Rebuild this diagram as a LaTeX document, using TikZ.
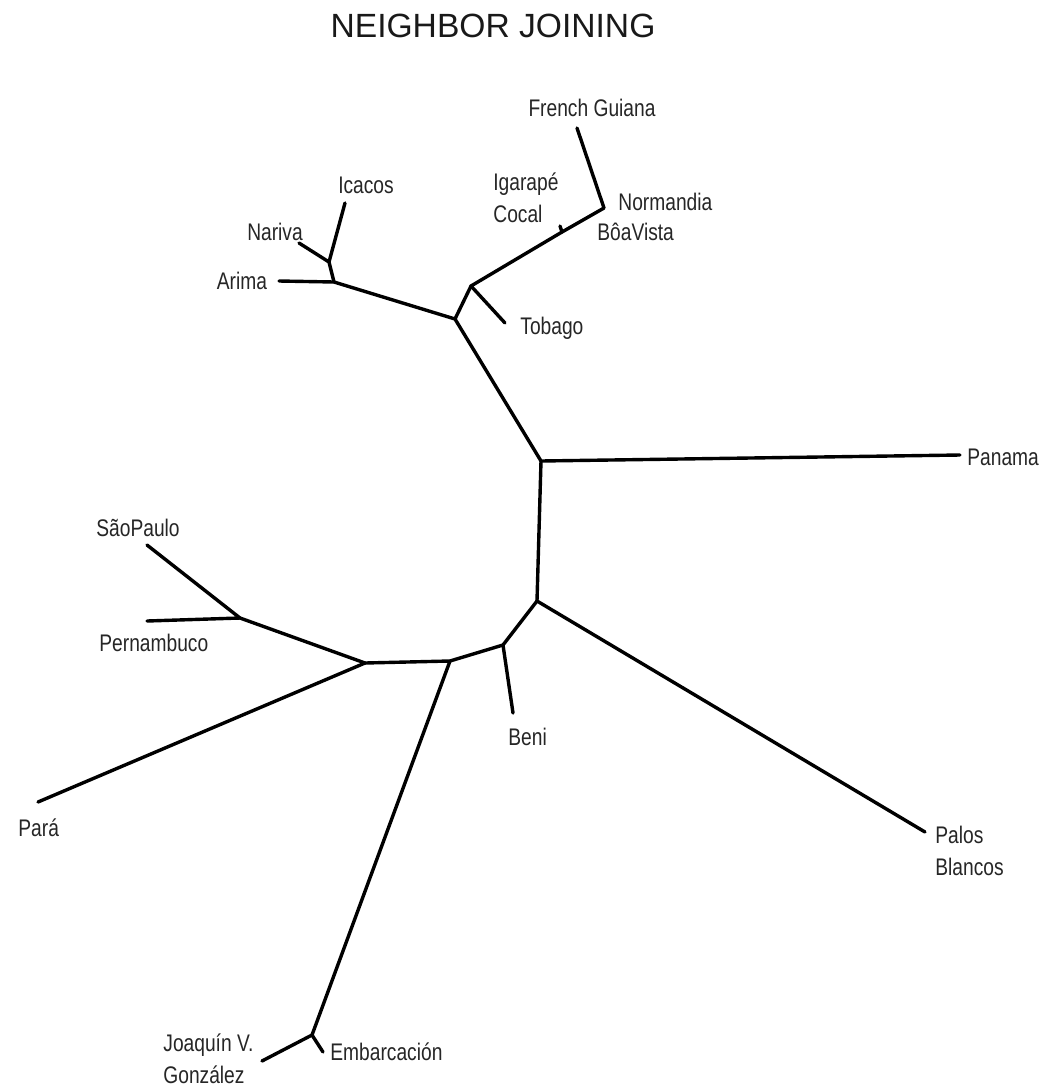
\documentclass[tikz,border=0pt]{standalone}
\usepackage{fontspec}
\setmainfont{Liberation Sans}
\newfontfamily\narrowfont[FakeStretch=0.8]{Liberation Sans}
\begin{document}
\begin{tikzpicture}[x=0.5pt,y=-0.5pt,
  branch/.style={line width=1.7pt,line cap=round,line join=round},
  lbl/.style={inner sep=0pt,font=\narrowfont\fontsize{12}{16}\selectfont,text=black!85},
  lblL/.style={lbl,anchor=west,align=left}]
\useasboundingbox (0,0) rectangle (1044,1088);
\fill[white] (0,0) rectangle (1044,1088);
\node[font=\fontsize{16.8}{19}\selectfont,inner sep=0pt,text=black!90] (title) at (493,26) {NEIGHBOR JOINING};
% internal nodes
\coordinate (jTop) at (455,319);
\coordinate (jTob) at (471,286);
\coordinate (jIg) at (562,232);
\coordinate (jNor) at (604,208);
\coordinate (jAri) at (334,282);
\coordinate (jNar) at (329,262);
\coordinate (jPan) at (541,461);
\coordinate (jPal) at (537,601);
\coordinate (jBen) at (503,645);
\coordinate (jEmbUp) at (450,661);
\coordinate (jSul) at (365,663);
\coordinate (jSP) at (240,618);
\coordinate (jEmb) at (312,1035);
% tips
\coordinate (tFG) at (577,128);
\coordinate (tIg) at (560,226);
\coordinate (tTob) at (505,323);
\coordinate (tAri) at (279,281);
\coordinate (tNar) at (299,243);
\coordinate (tIca) at (345,203);
\coordinate (tPan) at (960,455);
\coordinate (tPal) at (925,832);
\coordinate (tBen) at (513,713);
\coordinate (tPara) at (38,802);
\coordinate (tSP) at (147,545);
\coordinate (tPer) at (147,621);
\coordinate (tJoa) at (262,1061);
\coordinate (tEmb) at (323,1052);
% branches
\draw[branch] (jTop) -- (jTob) -- (jIg) -- (jNor) -- (tFG);
\draw[branch] (jIg) -- (tIg);
\draw[branch] (jTob) -- (tTob);
\draw[branch] (jTop) -- (jAri) -- (tAri);
\draw[branch] (jAri) -- (jNar) -- (tNar);
\draw[branch] (jNar) -- (tIca);
\draw[branch] (jTop) -- (jPan) -- (tPan);
\draw[branch] (jPan) -- (jPal) -- (tPal);
\draw[branch] (jPal) -- (jBen) -- (tBen);
\draw[branch] (jBen) -- (jEmbUp) -- (jSul);
\draw[branch] (jSul) -- (tPara);
\draw[branch] (jSul) -- (jSP) -- (tSP);
\draw[branch] (jSP) -- (tPer);
\draw[branch] (jEmbUp) -- (jEmb) -- (tJoa);
\draw[branch] (jEmb) -- (tEmb);
% labels
\node[lbl] (lFG) at (592,108) {French Guiana};
\node[lblL] (lIg) at (493,198) {Igarapé\\Cocal};
\node[lblL] (lNor) at (618,202) {Normandia};
\node[lblL] (lBoa) at (597,232) {BôaVista};
\node[lbl] (lIca) at (366,185) {Icacos};
\node[lbl] (lNar) at (275,232) {Nariva};
\node[lbl] (lAri) at (242,281) {Arima};
\node[lblL] (lTob) at (520,328) {Tobago};
\node[lblL] (lPan) at (967,457) {Panama};
\node[lblL] (lSP) at (96,528) {SãoPaulo};
\node[lblL] (lPer) at (99,643) {Pernambuco};
\node[lblL] (lBen) at (508,737) {Beni};
\node[lblL] (lPara) at (18,828) {Pará};
\node[lblL] (lPal) at (935,851) {Palos\\Blancos};
\node[lblL] (lJoa) at (163,1059) {Joaquín V.\\González};
\node[lblL] (lEmb) at (330,1052) {Embarcación};
\end{tikzpicture}
\end{document}
